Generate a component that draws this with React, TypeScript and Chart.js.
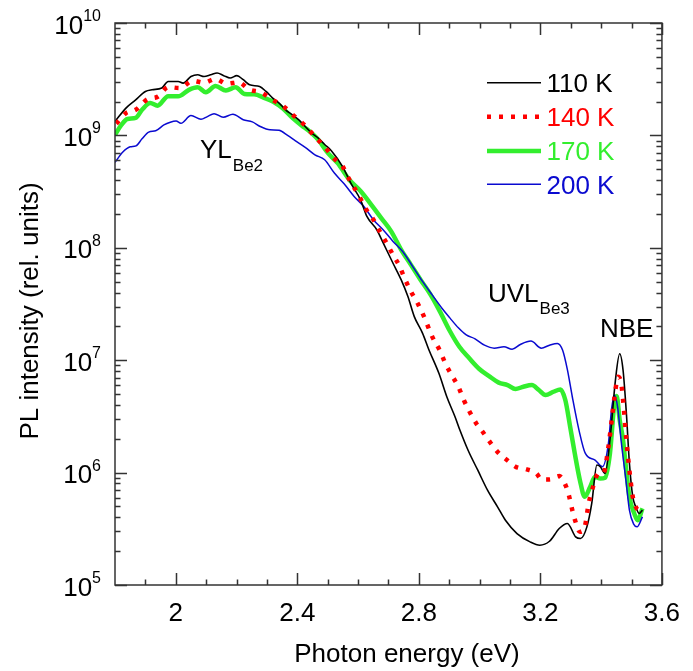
import React, { useEffect, useRef } from 'react';
import { Chart, registerables } from 'chart.js';

Chart.register(...registerables);

const FONT = "'Liberation Sans', Arial, Helvetica, sans-serif";

// ---- data (photon energy in eV, PL intensity in rel. units) ----
const energy110 = [1.8, 1.836, 1.868, 1.9, 1.922, 1.954, 1.975, 2.008, 2.024, 2.05, 2.072, 2.093, 2.115, 2.136, 2.158, 2.179, 2.201, 2.222, 2.243, 2.276, 2.297, 2.319, 2.34, 2.361, 2.383, 2.404, 2.426, 2.447, 2.469, 2.49, 2.512, 2.549, 2.576, 2.608, 2.629, 2.662, 2.683, 2.715, 2.742, 2.764, 2.785, 2.812, 2.833, 2.866, 2.892, 2.919, 2.935, 2.962, 2.994, 3.026, 3.059, 3.085, 3.123, 3.166, 3.198, 3.23, 3.262, 3.289, 3.316, 3.332, 3.353, 3.369, 3.386, 3.397, 3.413, 3.429, 3.447, 3.461, 3.472, 3.483, 3.493, 3.504, 3.514, 3.525, 3.536];
const intensity110 = [1.33e9, 1.75e9, 2.07e9, 2.46e9, 2.55e9, 2.64e9, 3.02e9, 3.02e9, 2.92e9, 3.34e9, 3.46e9, 3.34e9, 3.46e9, 3.59e9, 3.4e9, 3.24e9, 3.4e9, 3.13e9, 2.82e9, 2.72e9, 2.46e9, 2.15e9, 1.94e9, 1.69e9, 1.53e9, 1.38e9, 1.2e9, 1.05e9, 9.46e8, 8.3e8, 7.3e8, 5.28e8, 3.76e8, 2.67e8, 1.9e8, 1.44e8, 1.1e8, 7.29e7, 5.18e7, 3.68e7, 2.44e7, 1.74e7, 1.24e7, 7.64e6, 4.73e6, 3.14e6, 2.39e6, 1.58e6, 1.05e6, 6.98e5, 4.96e5, 3.77e5, 2.87e5, 2.42e5, 2.26e5, 2.45e5, 3.18e5, 3.53e5, 2.68e5, 2.59e5, 3.29e5, 5.32e5, 1.17e6, 1.13e6, 9.84e5, 1.95e6, 6.66e6, 1.14e7, 8.18e6, 3.37e6, 1.21e6, 6.1e5, 4.96e5, 4.33e5, 4.64e5];

const energy140 = [1.804, 1.836, 1.868, 1.906, 1.942, 1.975, 2.013, 2.056, 2.093, 2.131, 2.168, 2.206, 2.243, 2.281, 2.319, 2.356, 2.388, 2.426, 2.458, 2.49, 2.522, 2.549, 2.57, 2.603, 2.624, 2.651, 2.672, 2.694, 2.715, 2.737, 2.753, 2.774, 2.796, 2.817, 2.844, 2.871, 2.887, 2.908, 2.93, 2.948, 2.967, 2.989, 3.01, 3.037, 3.064, 3.091, 3.118, 3.155, 3.187, 3.203, 3.23, 3.262, 3.284, 3.295, 3.305, 3.315, 3.33, 3.346, 3.359, 3.375, 3.391, 3.407, 3.424, 3.436, 3.447, 3.455, 3.466, 3.475, 3.482, 3.493, 3.504, 3.514, 3.525, 3.539];
const intensity140 = [1.27e9, 1.58e9, 1.69e9, 2.09e9, 2.22e9, 2.69e9, 2.64e9, 3.06e9, 2.94e9, 3.18e9, 2.88e9, 2.97e9, 2.55e9, 2.41e9, 2.07e9, 1.8e9, 1.5e9, 1.22e9, 9.73e8, 7.91e8, 6.2e8, 5.3e8, 4.1e8, 2.9e8, 2.25e8, 1.77e8, 1.39e8, 1.1e8, 8.65e7, 6.81e7, 5.36e7, 4.08e7, 3.21e7, 2.44e7, 1.62e7, 1.19e7, 9.38e6, 7.38e6, 5.81e6, 4.42e6, 3.48e6, 2.74e6, 2.31e6, 1.82e6, 1.48e6, 1.29e6, 1.13e6, 1.07e6, 9.84e5, 8.7e5, 8.7e5, 9.31e5, 7.59e5, 6.1e5, 4.64e5, 3.7e5, 2.97e5, 3.29e5, 5.32e5, 7.75e5, 9.84e5, 9.84e5, 1.7e6, 3.14e6, 5.43e6, 7.13e6, 6.22e6, 3.61e6, 2.08e6, 1.05e6, 6.1e5, 4.96e5, 4.64e5, 4.96e5];

const energy170 = [1.8, 1.821, 1.841, 1.868, 1.889, 1.916, 1.94, 1.975, 2.008, 2.042, 2.072, 2.099, 2.131, 2.165, 2.197, 2.226, 2.258, 2.291, 2.321, 2.352, 2.384, 2.415, 2.436, 2.469, 2.501, 2.533, 2.571, 2.608, 2.64, 2.677, 2.709, 2.742, 2.774, 2.806, 2.839, 2.87, 2.902, 2.934, 2.966, 2.999, 3.031, 3.063, 3.092, 3.118, 3.144, 3.172, 3.195, 3.217, 3.243, 3.266, 3.282, 3.297, 3.313, 3.33, 3.346, 3.364, 3.38, 3.397, 3.413, 3.429, 3.444, 3.451, 3.461, 3.472, 3.483, 3.493, 3.509, 3.52, 3.536];
const intensity170 = [1.01e9, 1.24e9, 1.4e9, 1.43e9, 1.69e9, 1.94e9, 1.84e9, 2.23e9, 2.23e9, 2.53e9, 2.68e9, 2.42e9, 2.75e9, 2.51e9, 2.68e9, 2.34e9, 2.32e9, 2.16e9, 1.99e9, 1.74e9, 1.43e9, 1.22e9, 1.11e9, 9.14e8, 6.95e8, 5.66e8, 4.03e8, 3.2e8, 2.49e8, 1.83e8, 1.4e8, 9.58e7, 7.05e7, 5.18e7, 3.81e7, 2.69e7, 1.82e7, 1.31e7, 1.04e7, 8.35e6, 7.22e6, 6.32e6, 6.01e6, 5.54e6, 5.81e6, 6.01e6, 5.43e6, 4.9e6, 5.24e6, 5.48e6, 4.42e6, 2.65e6, 1.49e6, 8.57e5, 6.1e5, 7.49e5, 9.18e5, 8.87e5, 9.02e5, 1.49e6, 4.25e6, 4.8e6, 2.94e6, 1.95e6, 1.02e6, 6.06e5, 4.33e5, 3.77e5, 4.8e5];

const energy200 = [1.8, 1.825, 1.85, 1.869, 1.889, 1.911, 1.934, 1.961, 1.982, 2.001, 2.017, 2.05, 2.083, 2.104, 2.126, 2.156, 2.188, 2.222, 2.252, 2.278, 2.31, 2.34, 2.368, 2.394, 2.426, 2.458, 2.49, 2.522, 2.554, 2.587, 2.619, 2.651, 2.683, 2.715, 2.748, 2.78, 2.812, 2.844, 2.876, 2.902, 2.93, 2.956, 2.985, 3.016, 3.048, 3.08, 3.107, 3.134, 3.169, 3.203, 3.23, 3.256, 3.273, 3.289, 3.305, 3.327, 3.348, 3.38, 3.404, 3.424, 3.434, 3.443, 3.454, 3.466, 3.482, 3.493, 3.507, 3.518, 3.536];
const intensity200 = [5.75e8, 7.08e8, 7.91e8, 8.07e8, 9.33e8, 1.07e9, 1.1e9, 1.24e9, 1.31e9, 1.34e9, 1.28e9, 1.5e9, 1.39e9, 1.47e9, 1.56e9, 1.45e9, 1.54e9, 1.38e9, 1.32e9, 1.2e9, 1.12e9, 1.11e9, 1.0e9, 8.95e8, 7.84e8, 6.72e8, 6.07e8, 4.62e8, 3.71e8, 2.86e8, 2.33e8, 1.77e8, 1.44e8, 1.14e8, 9.18e7, 6.8e7, 5.02e7, 3.81e7, 2.9e7, 2.38e7, 1.94e7, 1.68e7, 1.55e7, 1.36e7, 1.28e7, 1.32e7, 1.25e7, 1.38e7, 1.48e7, 1.28e7, 1.36e7, 1.41e7, 1.23e7, 8.19e6, 4.73e6, 2.39e6, 1.48e6, 1.29e6, 1.13e6, 1.83e6, 3.61e6, 4.9e6, 3.86e6, 1.89e6, 8.32e5, 4.64e5, 3.48e5, 3.29e5, 4.04e5];

const seriesLabels = ['110 K', '140 K', '170 K', '200 K'];
const seriesColors = ['#000000', '#ff0000', '#33ee2e', '#0a0ad0'];

const xTickValues = [2, 2.4, 2.8, 3.2, 3.6];
const xTickLabels = ['2', '2.4', '2.8', '3.2', '3.6'];
const xMinorTickValues = [1.9, 2.1, 2.2, 2.3, 2.5, 2.6, 2.7, 2.9, 3.0, 3.1, 3.3, 3.4, 3.5];
const yDecadeExponents = [5, 6, 7, 8, 9, 10];
const yMinorMultipliers = [2, 3, 4, 5, 6, 7, 8, 9];

const xTitle = 'Photon energy (eV)';
const yTitle = 'PL intensity (rel. units)';

const overlay = {
  id: 'overlay',
  afterDraw(chart: any) {
    const { ctx, chartArea: a, scales } = chart;
    const xs = scales.x;
    const ys = scales.y;
    ctx.save();
    const axisColor = '#333333';
    ctx.strokeStyle = axisColor;
    ctx.lineWidth = 1.5;
    ctx.strokeRect(a.left, a.top, a.right - a.left, a.bottom - a.top);

    ctx.beginPath();
    const xTick = (v: number, len: number) => {
      const px = Math.round(xs.getPixelForValue(v)) + 0.5;
      ctx.moveTo(px, a.bottom);
      ctx.lineTo(px, a.bottom - len);
      ctx.moveTo(px, a.top);
      ctx.lineTo(px, a.top + len);
    };
    xTickValues.forEach((v) => xTick(v, 12));
    xMinorTickValues.forEach((v) => xTick(v, 5.5));
    const yTick = (v: number, len: number) => {
      const py = Math.round(ys.getPixelForValue(v)) + 0.5;
      ctx.moveTo(a.left, py);
      ctx.lineTo(a.left + len, py);
      ctx.moveTo(a.right, py);
      ctx.lineTo(a.right - len, py);
    };
    yDecadeExponents.forEach((d) => {
      yTick(Math.pow(10, d), 12);
      if (d < 10) yMinorMultipliers.forEach((m) => yTick(m * Math.pow(10, d), 5.5));
    });
    ctx.stroke();

    // y tick labels 10^n
    ctx.fillStyle = '#000';
    ctx.textAlign = 'left';
    ctx.textBaseline = 'alphabetic';
    yDecadeExponents.forEach((d) => {
      const py = ys.getPixelForValue(Math.pow(10, d));
      const sup = String(d);
      ctx.font = `16px ${FONT}`;
      const supW = ctx.measureText(sup).width;
      ctx.font = `26px ${FONT}`;
      const mainW = ctx.measureText('10').width;
      const right = 101;
      const x0 = right - supW - mainW;
      ctx.fillText('10', x0, py + 10.5);
      ctx.font = `16px ${FONT}`;
      ctx.fillText(sup, x0 + mainW, py - 2);
    });

    // axis titles
    ctx.font = `26px ${FONT}`;
    ctx.textAlign = 'center';
    ctx.fillText(xTitle, 407, 662);
    ctx.save();
    ctx.translate(38, 311);
    ctx.rotate(-Math.PI / 2);
    ctx.fillText(yTitle, 0, 0);
    ctx.restore();

    // annotations
    const sub = (main: string, s: string, x: number, y: number, dy: number) => {
      ctx.textAlign = 'left';
      ctx.font = `26px ${FONT}`;
      ctx.fillText(main, x, y);
      const w = ctx.measureText(main).width;
      ctx.font = `17px ${FONT}`;
      ctx.fillText(s, x + w + 1, y + dy);
    };
    sub('YL', 'Be2', 200, 158, 13);
    sub('UVL', 'Be3', 488, 301.5, 12);
    ctx.font = `26px ${FONT}`;
    ctx.textAlign = 'left';
    ctx.fillText('NBE', 600, 336.5);

    // legend
    const rows = [82.7, 116.7, 151, 184.3];
    const widths = [1.6, 4.5, 4.5, 1.5];
    rows.forEach((ry, i) => {
      ctx.beginPath();
      ctx.strokeStyle = seriesColors[i];
      ctx.lineWidth = widths[i];
      ctx.setLineDash(i === 1 ? [4, 8] : []);
      ctx.moveTo(487, ry);
      ctx.lineTo(541, ry);
      ctx.stroke();
      ctx.setLineDash([]);
      ctx.fillStyle = seriesColors[i];
      ctx.font = `26px ${FONT}`;
      ctx.textAlign = 'left';
      ctx.fillText(seriesLabels[i], 546.5, ry + 9.3);
    });
    ctx.restore();
  },
};

export default function App() {
  const ref = useRef<HTMLCanvasElement>(null);
  useEffect(() => {
    const mk = (e: number[], v: number[]) => e.map((x, i) => ({ x, y: v[i] }));
    const chart = new Chart(ref.current as HTMLCanvasElement, {
      type: 'line',
      data: {
        datasets: [
          { label: seriesLabels[0], data: mk(energy110, intensity110), borderColor: seriesColors[0], borderWidth: 1.6, order: 1 },
          { label: seriesLabels[1], data: mk(energy140, intensity140), borderColor: seriesColors[1], borderWidth: 4.5, borderDash: [4, 8], order: 0 },
          { label: seriesLabels[2], data: mk(energy170, intensity170), borderColor: seriesColors[2], borderWidth: 4.5, order: 3 },
          { label: seriesLabels[3], data: mk(energy200, intensity200), borderColor: seriesColors[3], borderWidth: 1.5, order: 2 },
        ],
      },
      options: {
        animation: false,
        responsive: true,
        maintainAspectRatio: false,
        elements: { point: { radius: 0 }, line: { cubicInterpolationMode: 'monotone', fill: false } },
        layout: { padding: { top: 23, right: 18, left: 0, bottom: 0 } },
        plugins: { legend: { display: false }, tooltip: { enabled: false } },
        scales: {
          x: {
            type: 'linear',
            min: 1.8,
            max: 3.6,
            grid: { display: false, drawTicks: false },
            border: { display: false },
            afterBuildTicks: (s: any) => {
              s.ticks = xTickValues.map((value) => ({ value }));
            },
            afterFit: (s: any) => {
              s.height = 86;
            },
            ticks: {
              autoSkip: false,
              maxRotation: 0,
              minRotation: 0,
              padding: 13,
              color: '#000',
              font: { family: FONT, size: 26 },
              callback: (_v: any, i: number) => xTickLabels[i],
            },
          },
          y: {
            type: 'logarithmic',
            min: 1e5,
            max: 1e10,
            grid: { display: false, drawTicks: false },
            border: { display: false },
            ticks: { display: false },
            afterFit: (s: any) => {
              s.width = 115;
            },
          },
        },
      } as any,
      plugins: [overlay],
    });
    return () => chart.destroy();
  }, []);
  return (
    <div style={{ position: 'fixed', left: 0, top: 0, width: 693, height: 671, background: '#fff' }}>
      <canvas ref={ref} />
    </div>
  );
}
